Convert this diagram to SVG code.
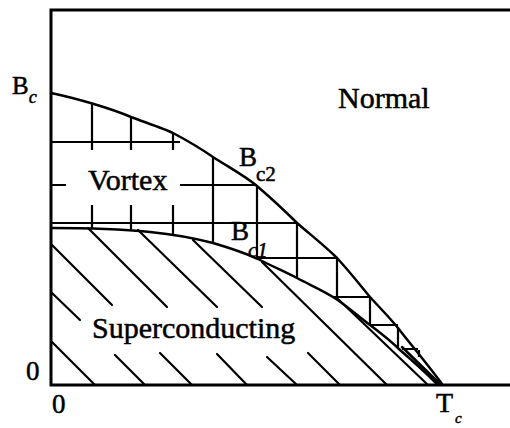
<svg xmlns="http://www.w3.org/2000/svg" width="510" height="428" viewBox="0 0 510 428">
<style>
.ax{stroke:#000;stroke-width:3;fill:none;stroke-linecap:square}
.cv{stroke:#000;stroke-width:2.5;fill:none;stroke-linejoin:round;stroke-linecap:round}
.gr{stroke:#000;stroke-width:2.2;fill:none}
.ht{stroke:#000;stroke-width:2.2;fill:none;stroke-linecap:round}
text{font-family:"Liberation Serif","Times New Roman",serif;fill:#000;stroke:#000;stroke-width:0.5}
.lb{font-size:30px}
.it{font-style:italic}
</style>
<rect width="510" height="428" fill="#fff"/>
<g id="axes">
<path class="ax" d="M51,10 H510 M51,10 V385 H510"/>
</g>
<g id="vortex-grid">
<path class="gr" d="M51,142 H180 M51,185 H66 M180,185 H257 M51,223 H297 M257,258 H337 M333,297 H370 M370,325 H398 M402,349 H418"/>
<path class="gr" d="M92,103 V150 M92,205 V229 M131,117 V150 M131,205 V231 M173,133 V150 M173,205 V236 M213,157 V242 M257,186 V259 M297,223 V278 M337,258 V298 M370,297 V325 M398,327 V347 M419,350 V357"/>
</g>
<g id="hatch">
<path class="ht" d="M52,245 L112,305 M88,228 L167,307 M138,230 L217,307 M193,240 L262,307 M262,262 L387,385 M52,293 L80,320 M52,342 L95,385 M115,355 L145,385 M160,353 L192,385 M217,354 L247,385 M267,357 L297,385 M308,353 L340,385 M338,299 L428,385"/>
</g>
<g id="curves">
<path id="Bc2-curve" class="cv" d="M51,93 C75,98 110,108 131,117 C150,124 165,129 173,133 C190,142 200,148 213,157 C230,168 245,176 257,186 C272,199 285,211 297,223 C312,236 325,246 337,258 C350,272 360,285 370,297 C380,308 390,318 398,328 C412,346 428,365 442,384"/>
<path id="Bc1-curve" class="cv" d="M51,228 C90,228 120,229 150,232 C170,234 190,237 213,243 C230,248 245,253 258,259 C272,266 285,272 297,278 C310,285 322,290 333,297 C346,305 358,316 370,325 C382,334 392,342 400,350 C414,362 426,373 437,384"/>
<path class="cv" d="M402,347 L439,383" stroke-width="1.6"/>
</g>
<g id="labels">
<text class="lb" x="338" y="108">Normal</text>
<text class="lb" x="88" y="190">Vortex</text>
<text class="lb" x="92" y="338">Superconducting</text>
<text x="12" y="94" font-size="25">B<tspan class="it" font-size="18" dy="9">c</tspan></text>
<text x="239" y="166" font-size="27">B<tspan font-size="21" dy="15" dx="-1">c2</tspan></text>
<text x="231" y="240" font-size="27">B<tspan class="it" font-size="21" dy="17" dx="-1">c1</tspan></text>
<text x="26" y="380" font-size="27">0</text>
<text x="52" y="413" font-size="27">0</text>
<text x="436" y="412" font-size="28">T</text>
<text x="455" y="423" font-size="15" class="it">c</text>
</g>
</svg>
